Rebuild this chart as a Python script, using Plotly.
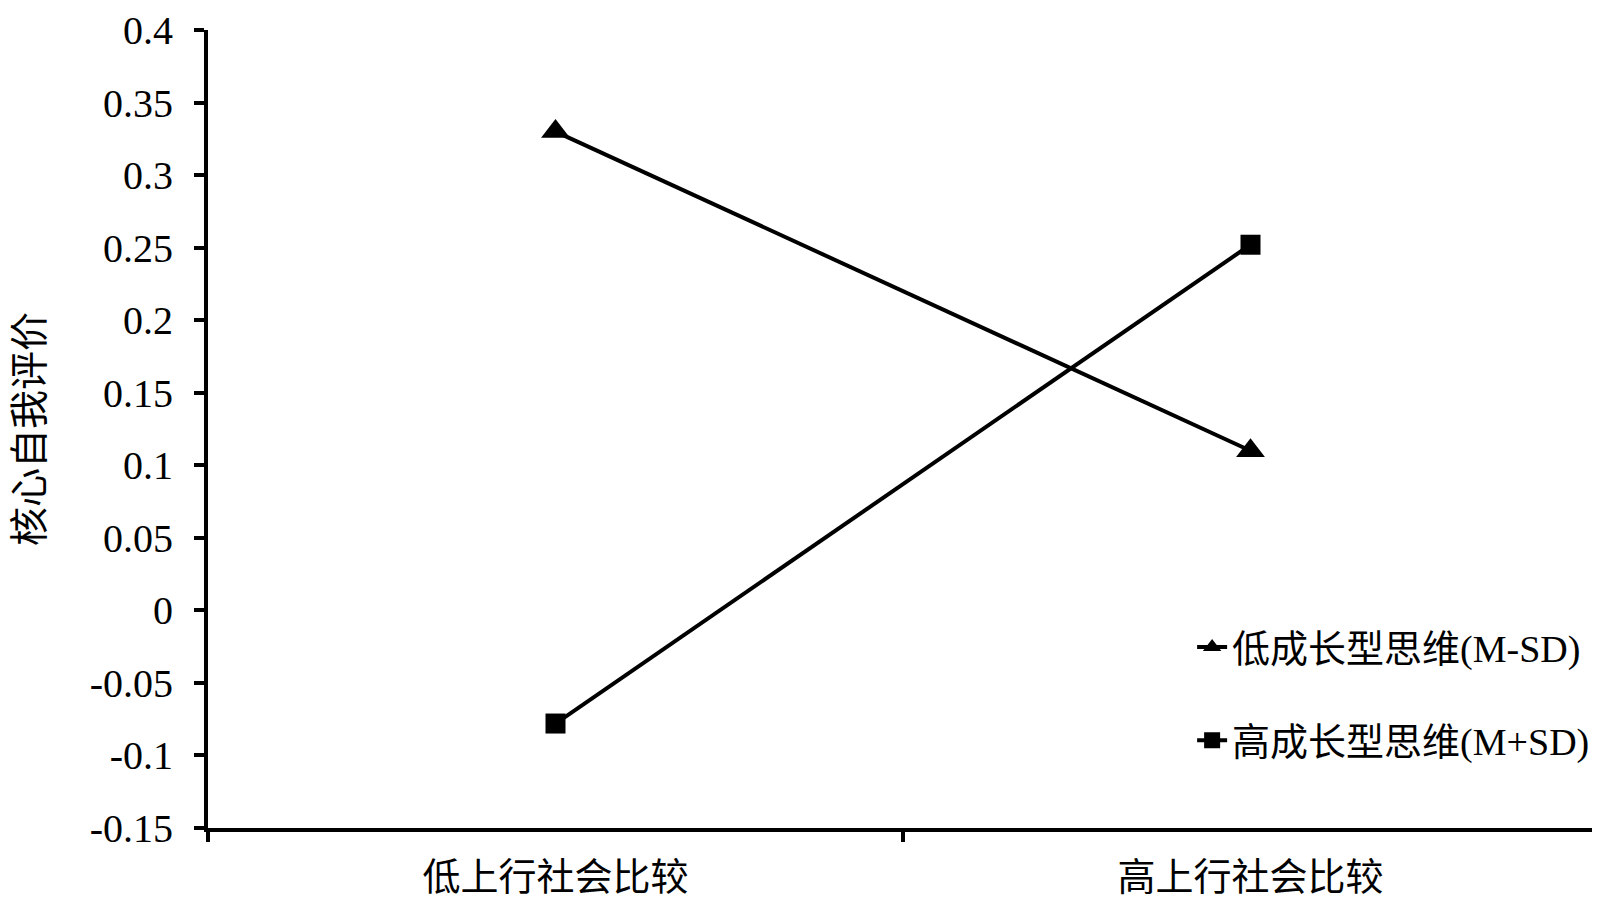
import plotly.graph_objects as go

categories = ["低上行社会比较", "高上行社会比较"]
low_growth = [0.33, 0.11]
high_growth = [-0.078, 0.252]
series_names = ["低成长型思维(M-SD)", "高成长型思维(M+SD)"]
y_title = "核心自我评价"
y_ticks = [-0.15, -0.1, -0.05, 0, 0.05, 0.1, 0.15, 0.2, 0.25, 0.3, 0.35, 0.4]
y_ticklabels = ["-0.15", "-0.1", "-0.05", "0", "0.05", "0.1", "0.15", "0.2", "0.25", "0.3", "0.35", "0.4"]

FONT = "Liberation Serif, 'Noto Sans CJK SC', serif"

fig = go.Figure()
fig.add_trace(go.Scatter(
    x=categories, y=low_growth, name=series_names[0], mode="lines+markers",
    line=dict(color="black", width=4),
    marker=dict(symbol="triangle-up", size=25, color="black"),
    legendgroup="a",
))
fig.add_trace(go.Scatter(
    x=categories, y=high_growth, name=series_names[1], mode="lines+markers",
    line=dict(color="black", width=4),
    marker=dict(symbol="square", size=20, color="black"),
    legendgroup="b",
))

fig.update_layout(
    width=1600, height=903,
    margin=dict(l=200, r=10, t=22, b=83, autoexpand=False),
    paper_bgcolor="white", plot_bgcolor="white",
    font=dict(family=FONT, size=40, color="black"),
    showlegend=True,
    legend=dict(
        x=0.708, y=0.266, xanchor="left", yanchor="top",
        font=dict(family=FONT, size=38, color="black"),
        bgcolor="rgba(0,0,0,0)", tracegroupgap=41,
        traceorder="grouped",
    ),
    xaxis=dict(
        type="category", range=[-0.5, 1.5], automargin=False,
        showline=True, linecolor="black", linewidth=4,
        ticks="outside", ticklen=10, tickwidth=4, tickcolor="black",
        tickson="boundaries", showgrid=False, zeroline=False,
        tickfont=dict(family=FONT, size=38, color="black"),
        ticklabelstandoff=12,
    ),
    yaxis=dict(
        range=[-0.15, 0.4], tickvals=y_ticks, ticktext=y_ticklabels,
        automargin=False,
        showline=True, linecolor="black", linewidth=4,
        ticks="outside", ticklen=10, tickwidth=4, tickcolor="black",
        showgrid=False, zeroline=False,
        tickfont=dict(family=FONT, size=40, color="black"),
        ticklabelstandoff=13,
        title=dict(text=y_title, font=dict(family=FONT, size=39, color="black"), standoff=36),
    ),
)

fig.write_html("out.html")
